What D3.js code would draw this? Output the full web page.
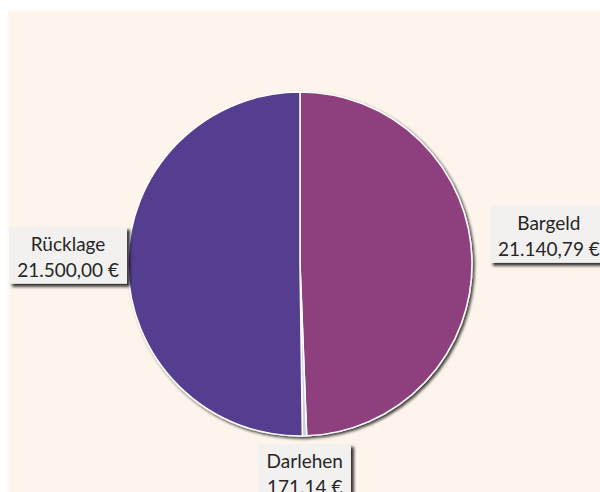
<!DOCTYPE html>
<html>
<head>
<meta charset="utf-8">
<script src="https://cdn.jsdelivr.net/npm/d3@7"></script>
<style>
  body { margin: 0; background: #fff; }
  svg { display: block; }
</style>
</head>
<body>
<svg id="chart"></svg>
<script>
// data
const categories = ["Bargeld", "Darlehen", "Rücklage"];
const amounts = [21140.79, 171.14, 21500.00];
const amountLabels = ["21.140,79 €", "171.14 €", "21.500,00 €"];
const colors = ["#8e407e", "#c9cde6", "#553e90"];

const width = 600, height = 492;
const cx = 300, cy = 264, radius = 172;

const svg = d3.select("#chart")
    .attr("width", width)
    .attr("height", height);

const defs = svg.append("defs");
defs.append("filter").attr("id", "pieShadow")
    .attr("x", "-10%").attr("y", "-10%").attr("width", "120%").attr("height", "120%")
  .append("feDropShadow")
    .attr("dx", 2).attr("dy", 2).attr("stdDeviation", 1.6)
    .attr("flood-color", "#000").attr("flood-opacity", 0.75);
defs.append("filter").attr("id", "boxShadow")
    .attr("x", "-10%").attr("y", "-10%").attr("width", "130%").attr("height", "130%")
  .append("feDropShadow")
    .attr("dx", 3).attr("dy", 3).attr("stdDeviation", 1.4)
    .attr("flood-color", "#000").attr("flood-opacity", 0.8);
defs.append("filter").attr("id", "soft")
  .append("feGaussianBlur").attr("stdDeviation", 1.2);

// cream plot background
svg.append("rect")
    .attr("x", 8).attr("y", 11)
    .attr("width", width).attr("height", height)
    .attr("fill", "#fdf4eb")
    .attr("filter", "url(#soft)");

const data = categories.map((c, i) => ({name: c, value: amounts[i], label: amountLabels[i], color: colors[i]}));

const pie = d3.pie().sort(null).value(d => d.value); // start at 12 o'clock, clockwise
const arc = d3.arc().innerRadius(0).outerRadius(radius);

const g = svg.append("g").attr("transform", `translate(${cx},${cy})`);

g.append("g")
    .attr("filter", "url(#pieShadow)")
  .selectAll("path")
  .data(pie(data))
  .enter().append("path")
    .attr("d", arc)
    .attr("fill", d => d.data.color)
    .attr("stroke", "#fff")
    .attr("stroke-width", 1.5);

// how far each label box sits from the rim, and how much it is lifted
const labelShift = {
    "Bargeld":  {gap: 18, dy: -26},
    "Darlehen": {gap: 8,  dy: 0},
    "Rücklage": {gap: 1,  dy: -10}
};

const labels = g.selectAll(".label")
    .data(pie(data))
    .enter().append("g")
    .attr("class", "label");

labels.each(function(d) {
    const sel = d3.select(this);
    const mid = (d.startAngle + d.endAngle) / 2;
    const s = labelShift[d.data.name];
    const px = Math.sin(mid) * (radius + s.gap);
    const py = -Math.cos(mid) * (radius + s.gap);

    const box = sel.append("rect")
        .attr("fill", "#f2f1f0")
        .attr("filter", "url(#boxShadow)");
    const text = sel.append("text")
        .attr("text-anchor", "middle")
        .style("font-family", "Lato, 'Open Sans', sans-serif")
        .style("font-size", "19px")
        .attr("fill", "#262626");
    text.append("tspan").attr("x", 0).attr("y", 0).text(d.data.name);
    text.append("tspan").attr("x", 0).attr("y", 26).text(d.data.label);

    const bb = text.node().getBBox();
    const w = bb.width + 16, h = 57;
    let bx, by; // box centre
    if (Math.sin(mid) < -0.5) { bx = px - w / 2; by = py; }
    else if (Math.sin(mid) > 0.5) { bx = px + w / 2; by = py; }
    else { bx = px; by = py + h / 2; }
    by += s.dy;

    box.attr("x", bx - w / 2).attr("y", by - h / 2).attr("width", w).attr("height", h);
    text.attr("transform", `translate(${bx},${by - h / 2 + 24})`);
});
</script>
</body>
</html>
